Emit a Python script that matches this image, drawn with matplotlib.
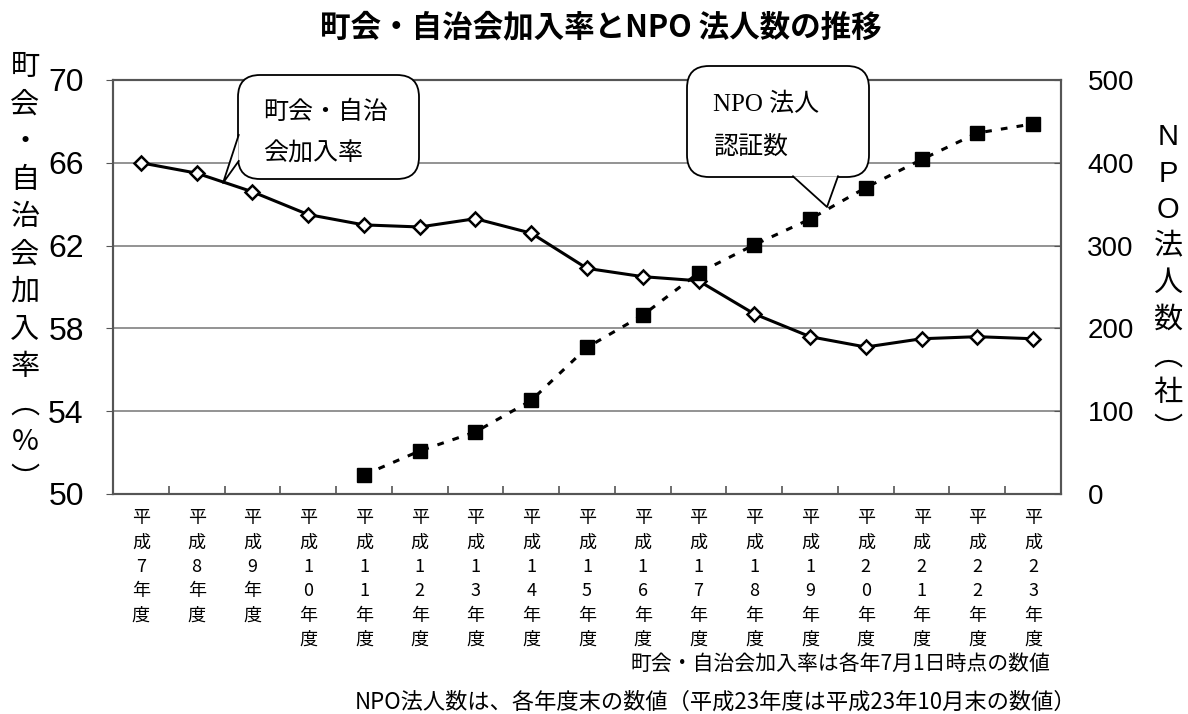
import numpy as np
import matplotlib
matplotlib.use("Agg")
import matplotlib.pyplot as plt
from matplotlib.patches import FancyBboxPatch, Polygon
from matplotlib.lines import Line2D
from matplotlib.transforms import blended_transform_factory

plt.rcParams['font.family'] = ['Noto Sans CJK JP', 'DejaVu Sans']

# ---- data -------------------------------------------------------------
years = ["平成7年度", "平成8年度", "平成9年度", "平成10年度", "平成11年度",
         "平成12年度", "平成13年度", "平成14年度", "平成15年度", "平成16年度",
         "平成17年度", "平成18年度", "平成19年度", "平成20年度", "平成21年度",
         "平成22年度", "平成23年度"]
join_rate = [66.0, 65.5, 64.6, 63.5, 63.0, 62.9, 63.3, 62.6, 60.9, 60.5,
             60.3, 58.7, 57.6, 57.1, 57.5, 57.6, 57.5]
npo_count = [np.nan, np.nan, np.nan, np.nan, 23, 52, 75, 113, 177, 216,
             267, 301, 332, 370, 404, 436, 447]
left_ticks = [50, 54, 58, 62, 66, 70]
right_ticks = [0, 100, 200, 300, 400, 500]

title = "町会・自治会加入率とNPO 法人数の推移"
left_label = "町会・自治会加入率︵%︶"
right_label = "NPO法人数︵社︶"
note1 = "町会・自治会加入率は各年7月1日時点の数値"
note2 = "NPO法人数は、各年度末の数値（平成23年度は平成23年10月末の数値）"
bubble1 = ["町会・自治", "会加入率"]
bubble2 = ["NPO 法人", "認証数"]

W, H = 1188, 714
fig = plt.figure(figsize=(W / 100, H / 100), dpi=100)
inch = fig.dpi_scale_trans


def px(x, y):
    return x / 100, (H - y) / 100


ax = fig.add_axes([113 / W, 1 - 494 / H, 948 / W, 414 / H])
ax2 = ax.twinx()

x = np.arange(len(years))
ax.set_xlim(-0.5, len(years) - 0.5)
ax.set_ylim(50, 70)
ax2.set_ylim(0, 500)
ax.set_yticks(left_ticks)
ax2.set_yticks(right_ticks)

ax.grid(axis='y', color='#808080', lw=1.2)
ax.set_axisbelow(True)
for a in (ax, ax2):
    for s in a.spines.values():
        s.set_color('#555555')
        s.set_linewidth(1.5)

# tick labels
ax.set_yticklabels([str(v) for v in left_ticks], family='Liberation Sans',
                   fontsize=23)
ax.tick_params(axis='y', length=5, color='#555555', pad=16)
ax2.set_yticklabels([str(v) for v in right_ticks], family='Liberation Sans',
                    fontsize=20)
ax2.tick_params(axis='y', length=5, color='#555555', direction='in', pad=19)

ax.set_xticks(x)
ax.set_xticklabels([])
ax.tick_params(axis='x', length=0)
ax.set_xticks(np.arange(0.5, len(years) - 1), minor=True)
ax.tick_params(axis='x', which='minor', direction='in', length=6,
               color='#555555', width=1.2)

# series
ax.plot(x, join_rate, color='black', lw=2.2, marker='D', ms=7.5,
        mfc='white', mec='black', mew=1.8, zorder=4)
ax2.plot(x, npo_count, color='black', lw=2.2, dashes=(2.2, 3.0),
         marker='s', ms=10, mfc='black', mec='black', zorder=4)
ax2.set_zorder(ax.get_zorder() + 1)
ax2.patch.set_visible(False)

# vertical category labels
bt = blended_transform_factory(ax.transData, inch)
for i, lab in enumerate(years):
    for j, ch in enumerate(lab):
        fig.text(x[i], (H - (518 + 24.4 * j)) / 100, ch, transform=bt,
                 fontsize=13, ha='center', va='center')

# title
fig.text(*px(601, 27), title, transform=inch, fontsize=22,
         fontweight='bold', ha='center', va='center')

# stacked axis titles
for j, ch in enumerate(left_label):
    fig.text(*px(25, 67 + 37.5 * j), ch, transform=inch, fontsize=21,
             ha='center', va='center')
for j, ch in enumerate(right_label):
    fig.text(*px(1168, 137 + 36.6 * j), ch, transform=inch, fontsize=21,
             ha='center', va='center',
             family=['Liberation Sans', 'Noto Sans CJK JP'])

# notes
fig.text(*px(1050, 664), note1, transform=inch, fontsize=15,
         ha='right', va='center')
fig.text(*px(1076, 702), note2, transform=inch, fontsize=16,
         ha='right', va='center')


# speech bubbles
def bubble(x0, y0, x1, y1, wedge, lines, tx, ty, dy):
    (bx0, by0), (bx1, by1) = px(x0, y1), px(x1, y0)
    box = FancyBboxPatch((bx0, by0), bx1 - bx0, by1 - by0,
                         boxstyle="round,pad=0,rounding_size=0.22",
                         transform=inch, fc='white', ec='black', lw=1.3,
                         zorder=5)
    fig.add_artist(box)
    pts = [px(*p) for p in wedge]
    fig.add_artist(Polygon(pts, closed=True, transform=inch, fc='white',
                           ec='none', zorder=6))
    fig.add_artist(Line2D([p[0] for p in pts], [p[1] for p in pts],
                          transform=inch, color='black', lw=1.3, zorder=7))
    for k, s in enumerate(lines):
        fig.text(*px(tx, ty + dy * k), s, transform=inch, fontsize=18,
                 ha='left', va='center', zorder=8,
                 family=['Liberation Serif', 'Noto Sans CJK JP'])


bubble(238, 75, 419, 179, [(238.7, 135), (223, 183), (238.7, 161)],
       bubble1, 263, 112, 42)
bubble(687, 66, 869, 177, [(793, 176.3), (827, 207), (838, 176.3)],
       bubble2, 713, 104, 43)

fig.savefig("out.png", dpi=100)
